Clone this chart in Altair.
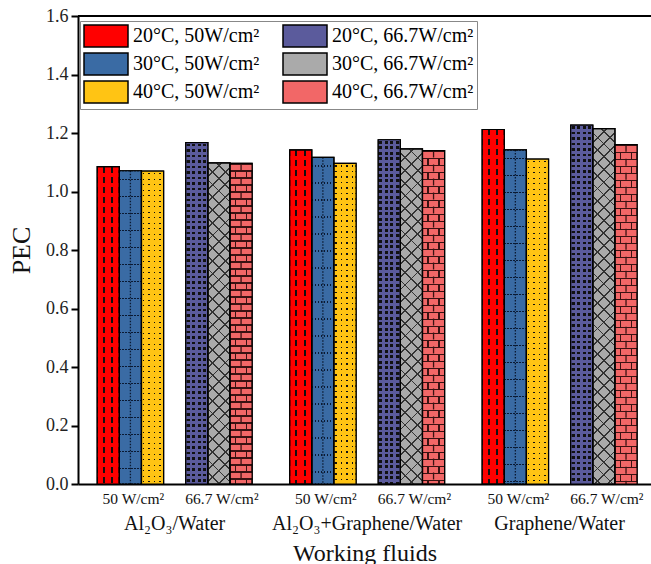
import math
import altair as alt
import pandas as pd

# ---------------- data ----------------
fluids = ["Al₂O₃/Water", "Al₂O₃+Graphene/Water", "Graphene/Water"]
powers = ["50 W/cm²", "66.7 W/cm²"]
temps = ["20°C", "30°C", "40°C"]

pec_20_50 = [1.085, 1.142, 1.212]
pec_30_50 = [1.071, 1.117, 1.142]
pec_40_50 = [1.070, 1.096, 1.111]
pec_20_67 = [1.167, 1.177, 1.227]
pec_30_67 = [1.098, 1.146, 1.215]
pec_40_67 = [1.096, 1.140, 1.160]

values = {
    ("50 W/cm²", "20°C"): pec_20_50,
    ("50 W/cm²", "30°C"): pec_30_50,
    ("50 W/cm²", "40°C"): pec_40_50,
    ("66.7 W/cm²", "20°C"): pec_20_67,
    ("66.7 W/cm²", "30°C"): pec_30_67,
    ("66.7 W/cm²", "40°C"): pec_40_67,
}


def series_name(power, temp):
    return f"{temp}, {power.replace(' ', '')}"


rows = []
for (power, temp), vals in values.items():
    for fluid, v in zip(fluids, vals):
        rows.append({"fluid": fluid, "power": power, "temp": temp,
                     "series": series_name(power, temp),
                     "slot": f"{power}|{temp}", "pec": v})
df = pd.DataFrame(rows)

slots = [f"{powers[0]}|{t}" for t in temps] + ["gap"] + [f"{powers[1]}|{t}" for t in temps]
legend_order = [series_name(p, t) for p in powers for t in temps]

# ---------------- layout / styles ----------------
PLOT_W, PLOT_H = 573, 468
Y_MAX = 1.6
P_IN, P_OUT, ALIGN = 0.195, 0.086, 0.58
STEP = PLOT_W / (3 - P_IN + 2 * P_OUT)
W_BAR = STEP * (1 - P_IN) / len(slots)

S20_50, S30_50, S40_50 = [series_name(powers[0], t) for t in temps]
S20_67, S30_67, S40_67 = [series_name(powers[1], t) for t in temps]

C_RED, C_BLUE, C_YEL = "#FF0000", "#3A6BA4", "#FFC414"
C_NAVY, C_GRAY, C_BRICK = "#5B5B9C", "#AAAAAA", "#F26767"
base_colors = {S20_50: C_RED, S30_50: C_BLUE, S40_50: C_YEL,
               S20_67: C_NAVY, S30_67: C_GRAY, S40_67: C_BRICK}

FONT = "Liberation Serif"
T = "rgba(0,0,0,0)"
DARK = "#111111"
BLUE_DOT = "#0B1A33"
BRICK_LINE = "#3A1212"


def periodic(period, start, length, total):
    out, p = [], start
    while p < total:
        out.append((p, p + length))
        p += period
    return out


def complement(intervals, total):
    res, cur = [], 0.0
    for a, b in sorted(intervals):
        if a > cur:
            res.append((cur, a))
        cur = max(cur, b)
    if cur < total:
        res.append((cur, total))
    return res


def gradient(direction, intervals, color, total, h=None):
    stops = [(0.0, T)]
    last = 0.0
    for a, b in sorted(intervals):
        a = max(0.0, min(1.0, a / total))
        b = max(0.0, min(1.0, b / total))
        if b <= a:
            continue
        a = max(a, last)
        stops += [(a, T), (a, color), (b, color), (b, T)]
        last = b
    stops.append((1.0, T))
    gstops = [alt.GradientStop(offset=round(o, 6), color=c) for o, c in stops]
    if direction == "x":
        return alt.LinearGradient(gradient="linear", stops=gstops, x1=0, y1=0, x2=1, y2=0)
    if direction == "y":
        return alt.LinearGradient(gradient="linear", stops=gstops, x1=0, y1=0, x2=0, y2=1)
    r = h / W_BAR
    k = (1 + r) / (1 + r * r)
    if direction == "d1":
        return alt.LinearGradient(gradient="linear", stops=gstops, x1=0, y1=0, x2=k, y2=k * r)
    return alt.LinearGradient(gradient="linear", stops=gstops, x1=1, y1=0, x2=1 - k, y2=k * r)


# ---------------- encodings ----------------
x_enc = alt.X("fluid:N", sort=fluids,
              scale=alt.Scale(domain=fluids, paddingInner=P_IN, paddingOuter=P_OUT, align=ALIGN),
              axis=alt.Axis(title="Working fluids", labelAngle=0, ticks=False, labelLimit=400,
                            labelPadding=29, labelFontSize=20, labelFont=FONT, labelColor="#111",
                            titleFont=FONT, titleFontSize=24, titleFontWeight="normal",
                            titlePadding=8, titleColor="#111",
                            domainColor="black", domainWidth=2))
xo_enc = alt.XOffset("slot:N", scale=alt.Scale(domain=slots, paddingInner=0, paddingOuter=0))
y_enc = alt.Y("pec:Q",
              scale=alt.Scale(domain=[0, Y_MAX], nice=False, zero=True),
              axis=alt.Axis(title="PEC", values=[0, 0.2, 0.4, 0.6, 0.8, 1.0, 1.2, 1.4, 1.6],
                            format=".1f", grid=False, tickSize=7, tickWidth=2, tickColor="black",
                            domainColor="black", domainWidth=2, labelPadding=3,
                            labelFont=FONT, labelFontSize=18, labelColor="#222",
                            titleFont=FONT, titleFontSize=26, titleFontWeight="normal",
                            titlePadding=11, titleColor="#111"))

legend = alt.Legend(orient="none", legendX=2, legendY=5, columns=2, title=None,
                    symbolType="M-1,-1H3V1H-1Z", symbolSize=484,
                    symbolStrokeColor="black", symbolStrokeWidth=1.5, symbolOpacity=1,
                    labelFont=FONT, labelFontSize=20, labelColor="black", labelLimit=300,
                    labelOffset=26, rowPadding=0, columnPadding=20, padding=3,
                    strokeColor="#888888", fillColor="white")

base = alt.Chart().mark_bar(stroke="black", strokeWidth=1.2).encode(
    x=x_enc, xOffset=xo_enc, y=y_enc,
    color=alt.Color("series:N",
                    scale=alt.Scale(domain=legend_order,
                                    range=[base_colors[s] for s in legend_order]),
                    legend=legend),
)

layers = [base]
value_of = {(r["series"], r["fluid"]): r["pec"] for r in rows}


def bar_height(s, f):
    return value_of[(s, f)] / Y_MAX * PLOT_H


def grad_layer_series(s, intervals, color):
    """stripes varying across the bar width (same for every bar of the series)"""
    g = gradient("x", intervals, color, W_BAR)
    layers.append(alt.Chart().mark_bar(fill=g).encode(x=x_enc, xOffset=xo_enc, y=y_enc)
                  .transform_filter(alt.datum.series == s))


def grad_layer_bars(s, direction, make_intervals, color):
    """stripes measured in pixels from each bar's top"""
    for f in fluids:
        h = bar_height(s, f)
        total = h if direction == "y" else (W_BAR + h) / math.sqrt(2)
        g = gradient(direction, make_intervals(total), color, total, h=h)
        layers.append(alt.Chart().mark_bar(fill=g).encode(x=x_enc, xOffset=xo_enc, y=y_enc)
                      .transform_filter((alt.datum.series == s) & (alt.datum.fluid == f)))


def center_rule(s, width, dash, dash_offset, color):
    layers.append(alt.Chart().mark_rule(strokeWidth=width, strokeDash=dash,
                                        strokeDashOffset=dash_offset, color=color)
                  .encode(x=x_enc, xOffset=xo_enc, y=y_enc, y2=alt.datum(0))
                  .transform_filter(alt.datum.series == s))


def at(frac, width):
    c = frac * W_BAR
    return (c - width / 2, c + width / 2)


# red: two columns of dashes
grad_layer_series(S20_50, [at(0.30, 2.2), at(0.68, 2.2)], DARK)
grad_layer_bars(S20_50, "y", lambda tot: complement(periodic(10, 0, 6, tot), tot), C_RED)

# blue: dotted grid
grad_layer_bars(S30_50, "y", lambda tot: periodic(17, 8, 1.3, tot), BLUE_DOT)
grad_layer_series(S30_50, complement(periodic(3, 0, 1.5, W_BAR), W_BAR), C_BLUE)
center_rule(S30_50, 1.3, [1.5, 1.5], 0, BLUE_DOT)

# yellow: dots
grad_layer_series(S40_50, periodic(5.5, 1.5, 1.4, W_BAR), DARK)
grad_layer_bars(S40_50, "y", lambda tot: complement(periodic(5.5, 2, 1.4, tot), tot), C_YEL)

# navy: small black squares
grad_layer_series(S20_67, periodic(5.5, 1.2, 2.8, W_BAR), DARK)
grad_layer_bars(S20_67, "y", lambda tot: complement(periodic(5.5, 1.0, 2.8, tot), tot), C_NAVY)

# gray: diagonal cross-hatch
grad_layer_bars(S30_67, "d1", lambda tot: periodic(9, 0, 1.3, tot), "#333333")
grad_layer_bars(S30_67, "d2", lambda tot: periodic(9, 0, 1.3, tot), "#333333")

# brick
grad_layer_series(S40_67, [at(0.25, 1.3), at(0.75, 1.3)], BRICK_LINE)
grad_layer_bars(S40_67, "y", lambda tot: periodic(14, 0, 7, tot), C_BRICK)
center_rule(S40_67, 1.3, [7, 7], 0, BRICK_LINE)
grad_layer_bars(S40_67, "y", lambda tot: periodic(7, 0, 1.3, tot), BRICK_LINE)

outline = alt.Chart().mark_bar(fill="white", fillOpacity=0, stroke="black", strokeWidth=1.2).encode(
    x=x_enc, xOffset=xo_enc, y=y_enc)
layers.append(outline)

power_text = alt.Chart().mark_text(font=FONT, fontSize=15.5, dy=15, dx=3, baseline="middle",
                                   color="#111").encode(
    x=x_enc, xOffset=xo_enc, y=alt.datum(0), text="power:N"
).transform_filter(alt.datum.temp == "30°C")
layers.append(power_text)

top_line = alt.Chart().mark_rule(color="black", strokeWidth=2).encode(y=alt.datum(Y_MAX))
layers.append(top_line)

chart = alt.layer(*layers, data=df).properties(
    width=PLOT_W, height=PLOT_H,
    autosize=alt.AutoSizeParams(type="none"),
    padding={"left": 78, "top": 16, "right": 0, "bottom": 80},
    background="white",
).configure_view(strokeWidth=0)

chart.save("out.html", embed_options={"renderer": "svg", "actions": False})
